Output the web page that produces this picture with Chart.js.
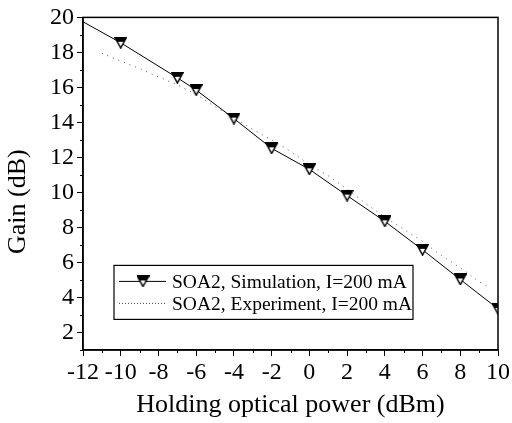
<!DOCTYPE html>
<html>
<head>
<meta charset="utf-8">
<script src="https://cdn.jsdelivr.net/npm/chart.js@4/dist/chart.umd.min.js"></script>
<style>
  html, body { margin: 0; padding: 0; background: #fff; }
  #wrap { width: 512px; height: 423px; }
</style>
</head>
<body>
<div id="wrap"><canvas id="c" width="512" height="423"></canvas></div>
<script>
// ---- data ----
const simLabel = 'SOA2, Simulation, I=200 mA';
const expLabel = 'SOA2, Experiment, I=200 mA';
const simX = [-12, -10, -7, -6, -4, -2, 0, 2, 4, 6, 8, 10];
const simY = [19.75, 18.55, 16.55, 15.85, 14.22, 12.52, 11.32, 9.82, 8.35, 6.72, 5.03, 3.35];
const simMarker = [false, true, true, true, true, true, true, true, true, true, true, true];
const expX = [-11, -10, -9, -8, -7, -6, -5, -4, -3, -2, -1, 0, 1, 2, 3, 4, 5, 6, 7, 8, 9, 9.5];
const expY = [17.96, 17.5, 17.08, 16.6, 16.15, 15.6, 14.9, 14.25, 13.6, 13.0, 12.35, 11.6, 10.95, 10.2, 9.35, 8.6, 7.9, 7.2, 6.4, 5.7, 4.9, 4.6];
const xMajor = [-12, -10, -8, -6, -4, -2, 0, 2, 4, 6, 8, 10];
const yMajor = [2, 4, 6, 8, 10, 12, 14, 16, 18, 20];
const xMinor = [-11, -9, -7, -5, -3, -1, 1, 3, 5, 7, 9];
const yMinor = [1, 3, 5, 7, 9, 11, 13, 15, 17, 19];
const xTitle = 'Holding optical power (dBm)';
const yTitle = 'Gain (dB)';

// ---- marker: half-filled down triangle ----
function makeMarker() {
  const w = 13, h = 12;
  const c = document.createElement('canvas');
  c.width = w; c.height = h;
  const g = c.getContext('2d');
  g.beginPath();
  g.moveTo(0.8, 0.8); g.lineTo(w - 0.8, 0.8); g.lineTo(w / 2, h - 0.8); g.closePath();
  g.fillStyle = '#fff'; g.fill();
  g.save(); g.clip();
  g.fillStyle = '#000'; g.fillRect(0, 0, w, 5);
  g.restore();
  g.lineWidth = 1.4; g.strokeStyle = '#000'; g.stroke();
  return c;
}
const marker = makeMarker();

const SERIF = '"Liberation Serif", "Times New Roman", serif';

const frame = {
  id: 'frame',
  afterDraw(chart) {
    const { ctx, chartArea: a, scales } = chart;
    ctx.save();
    ctx.strokeStyle = '#000';
    ctx.lineWidth = 1.5;
    ctx.strokeRect(a.left, a.top, a.right - a.left, a.bottom - a.top);
    // minor ticks
    ctx.lineWidth = 1;
    ctx.beginPath();
    xMinor.forEach(v => {
      const px = Math.round(scales.x.getPixelForValue(v)) + 0.5;
      ctx.moveTo(px, a.bottom); ctx.lineTo(px, a.bottom + 3);
    });
    yMinor.forEach(v => {
      const py = Math.round(scales.y.getPixelForValue(v)) + 0.5;
      ctx.moveTo(a.left, py); ctx.lineTo(a.left - 3, py);
    });
    ctx.stroke();
    // y axis title
    ctx.save();
    ctx.translate(18, (a.top + a.bottom) / 2 + 18);
    ctx.rotate(-Math.PI / 2);
    ctx.font = '26px ' + SERIF;
    ctx.fillStyle = '#000';
    ctx.textAlign = 'center';
    ctx.textBaseline = 'middle';
    ctx.fillText(yTitle, 0, 0);
    ctx.restore();
    // legend
    const lx = a.left + 31, ly = a.top + 248, lw = 299, lh = 54;
    ctx.lineWidth = 1.2;
    ctx.fillStyle = '#fff';
    ctx.fillRect(lx, ly, lw, lh);
    ctx.strokeRect(lx, ly, lw, lh);
    const ds = chart.data.datasets;
    ctx.font = '19.5px ' + SERIF;
    ctx.textBaseline = 'middle';
    ctx.fillStyle = '#000';
    // row 1
    let ry = ly + 16;
    ctx.lineWidth = 1;
    ctx.beginPath(); ctx.moveTo(lx + 5, ry); ctx.lineTo(lx + 52, ry); ctx.stroke();
    ctx.drawImage(marker, lx + 29 - marker.width / 2, ry - marker.height / 2);
    ctx.fillText(ds[0].label, lx + 58, ry + 1);
    // row 2
    ry = ly + 38;
    ctx.strokeStyle = '#444';
    ctx.setLineDash([1, 2]);
    ctx.beginPath(); ctx.moveTo(lx + 5, ry); ctx.lineTo(lx + 52, ry); ctx.stroke();
    ctx.setLineDash([]);
    ctx.fillText(ds[1].label, lx + 58, ry + 1);
    ctx.restore();
  }
};

new Chart(document.getElementById('c'), {
  type: 'scatter',
  data: {
    datasets: [
      {
        label: simLabel,
        data: simX.map((x, i) => ({ x, y: simY[i] })),
        showLine: true,
        borderColor: '#000',
        borderWidth: 1,
        pointStyle: marker,
        pointRadius: simMarker.map(m => m ? 6 : 0),
        pointHoverRadius: 0,
        tension: 0,
        order: 0
      },
      {
        label: expLabel,
        data: expX.map((x, i) => ({ x, y: expY[i] })),
        showLine: true,
        borderColor: '#555',
        borderWidth: 1,
        borderDash: [1, 5],
        pointRadius: 0,
        tension: 0,
        order: 1
      }
    ]
  },
  options: {
    responsive: false,
    animation: false,
    devicePixelRatio: 1,
    layout: { padding: { top: 15, right: 13, left: 0, bottom: 2 } },
    plugins: { legend: { display: false }, tooltip: { enabled: false } },
    scales: {
      x: {
        type: 'linear', min: -12, max: 10,
        afterBuildTicks: s => { s.ticks = xMajor.map(v => ({ value: v })); },
        afterFit: s => { s.height = 71; },
        ticks: { color: '#000', font: { family: SERIF, size: 24 }, padding: 2, maxRotation: 0, autoSkip: false,
                 callback: v => String(v) },
        grid: { drawOnChartArea: false, drawTicks: true, tickLength: 6, tickColor: '#000', tickWidth: 1 },
        border: { display: true, color: '#000', width: 1.5 },
        title: { display: true, text: xTitle, color: '#000', font: { family: SERIF, size: 26 }, padding: { top: 0, bottom: 0 } }
      },
      y: {
        type: 'linear', min: 1, max: 20,
        afterBuildTicks: s => { s.ticks = yMajor.map(v => ({ value: v })); },
        afterFit: s => { s.width = 83; },
        ticks: { color: '#000', font: { family: SERIF, size: 24 }, padding: 3, autoSkip: false,
                 callback: v => String(v) },
        grid: { drawOnChartArea: false, drawTicks: true, tickLength: 6, tickColor: '#000', tickWidth: 1 },
        border: { display: true, color: '#000', width: 1.5 },
        title: { display: false }
      }
    }
  },
  plugins: [frame]
});
</script>
</body>
</html>
